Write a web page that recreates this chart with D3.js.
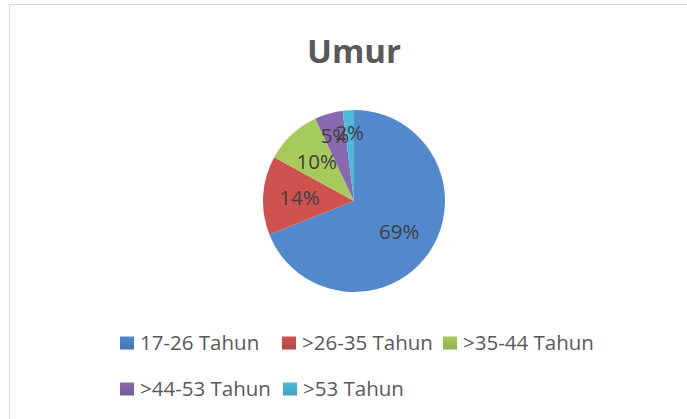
<!DOCTYPE html>
<html>
<head>
<meta charset="utf-8">
<script src="https://cdn.jsdelivr.net/npm/d3@7"></script>
<style>
  body { margin: 0; background: #fff; }
  text { font-family: "Open Sans", "Noto Sans", sans-serif; }
</style>
</head>
<body>
<div id="chart"></div>
<script>
// Chart data
const categories = ["17-26 Tahun", ">26-35 Tahun", ">35-44 Tahun", ">44-53 Tahun", ">53 Tahun"]
const values = [69, 14, 10, 5, 2]
const labels = ["69%", "14%", "10%", "5%", "2%"]
const colors = ["#4a7dbb", "#be4b48", "#98b954", "#7d60a0", "#46aac5"]
const title = "Umur"

const WIDTH = 687
const HEIGHT = 419
const CX = 354, CY = 201, R = 91

let svg = d3.select("#chart").append("svg")
    .attr("width", WIDTH)
    .attr("height", HEIGHT)

// Gradients, lighter toward the top like the office style
let defs = svg.append("defs")
colors.forEach((c, i) => {
    let g = defs.append("linearGradient")
        .attr("id", "grad" + i)
        .attr("gradientUnits", "userSpaceOnUse")
        .attr("x1", 0).attr("y1", CY - R)
        .attr("x2", 0).attr("y2", CY + R)
    g.append("stop").attr("offset", "0%").attr("stop-color", d3.color(c).brighter(0.25))
    g.append("stop").attr("offset", "100%").attr("stop-color", d3.color(c).darker(0.1))

    let s = defs.append("linearGradient")
        .attr("id", "sq" + i)
        .attr("x1", 0).attr("y1", 0)
        .attr("x2", 0).attr("y2", 1)
    s.append("stop").attr("offset", "0%").attr("stop-color", d3.color(c).brighter(0.25))
    s.append("stop").attr("offset", "100%").attr("stop-color", d3.color(c).darker(0.15))
})

// Chart border
svg.append("rect")
    .attr("x", 9.5).attr("y", 4.5)
    .attr("width", WIDTH).attr("height", HEIGHT)
    .attr("fill", "none")
    .attr("stroke", "#d9d9d9")
    .attr("stroke-width", 1)

// Title
svg.append("text")
    .attr("x", CX).attr("y", 63)
    .attr("text-anchor", "middle")
    .attr("font-size", 33)
    .attr("font-weight", "bold")
    .attr("fill", "#595959")
    .text(title)

// Pie
let pie = d3.pie().sort(null).value(d => d)
let arcs = pie(values)
let arc = d3.arc().innerRadius(0).outerRadius(R)

let g = svg.append("g").attr("transform", `translate(${CX},${CY})`)

g.selectAll("path")
    .data(arcs)
    .enter()
    .append("path")
        .attr("d", arc)
        .attr("fill", (d, i) => `url(#grad${i})`)

// Data labels, small slices pushed further out
g.selectAll("text.lbl")
    .data(arcs)
    .enter()
    .append("text")
        .attr("class", "lbl")
        .attr("transform", d => {
            let r = d.data < 6 ? R * 0.75 : R * 0.6
            let a = (d.startAngle + d.endAngle) / 2
            return `translate(${Math.sin(a) * r},${-Math.cos(a) * r})`
        })
        .attr("dy", "0.36em")
        .attr("text-anchor", "middle")
        .attr("font-size", 20.5)
        .attr("fill", "#404040")
        .text((d, i) => labels[i])

// Legend
const legendRows = [[0, 1, 2], [3, 4]]
const legendX = [[120, 282, 443], [120, 283]]
const legendY = [343, 389]
legendRows.forEach((row, ri) => {
    row.forEach((k, j) => {
        let lg = svg.append("g").attr("transform", `translate(${legendX[ri][j]},${legendY[ri]})`)
        lg.append("rect")
            .attr("x", 0).attr("y", -6.5)
            .attr("width", 14).attr("height", 13)
            .attr("fill", `url(#sq${k})`)
        lg.append("text")
            .attr("x", 20).attr("y", 6.5)
            .attr("font-size", 20.5)
            .attr("fill", "#595959")
            .text(categories[k])
    })
})
</script>
</body>
</html>
